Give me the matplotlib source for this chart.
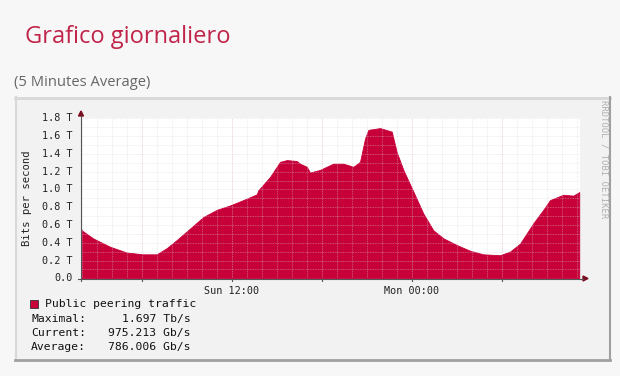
import matplotlib
matplotlib.use("Agg")
import matplotlib.pyplot as plt
from matplotlib.patches import Rectangle
import numpy as np

# hours since Sun 00:00
hours = [1.93, 1.98, 2.73, 3.87, 4.98, 6.07, 6.98, 7.65, 8.31, 9.2, 10.09, 10.98, 11.87,
         12.75, 13.65, 13.75, 14.53, 15.2, 15.65, 16.31, 16.53, 16.98, 17.2, 17.87,
         18.75, 19.42, 20.09, 20.53, 20.87, 21.09, 21.87, 22.65, 22.98, 23.42, 24.09,
         24.75, 25.42, 26.09, 26.98, 27.87, 28.75, 29.87, 30.53, 31.2, 32.09, 32.75,
         33.2, 34.09, 34.75, 35.15]
traffic_T = [0.56, 0.54, 0.45, 0.355, 0.29, 0.27, 0.27, 0.34, 0.43, 0.56, 0.69, 0.77, 0.82,
             0.88, 0.945, 0.99, 1.14, 1.31, 1.33, 1.32, 1.29, 1.255, 1.19, 1.22,
             1.29, 1.29, 1.255, 1.31, 1.575, 1.67, 1.69, 1.65, 1.42, 1.22, 0.975,
             0.73, 0.54, 0.45, 0.375, 0.31, 0.27, 0.26, 0.30, 0.39, 0.62, 0.77,
             0.88, 0.94, 0.93, 0.97]
yticks = [0.0, 0.2, 0.4, 0.6, 0.8, 1.0, 1.2, 1.4, 1.6, 1.8]
ytick_labels = ["0.0", "0.2 T", "0.4 T", "0.6 T", "0.8 T", "1.0 T", "1.2 T", "1.4 T", "1.6 T", "1.8 T"]
xtick_pos = [12, 24]
xtick_labels = ["Sun 12:00", "Mon 00:00"]
legend_name = "Public peering traffic"
stats = [("Maximal:", "1.697 Tb/s"), ("Current:", "975.213 Gb/s"), ("Average:", "786.006 Gb/s")]

W, H = 620, 376
fig = plt.figure(figsize=(W / 100, H / 100), dpi=100)
fig.patch.set_facecolor("#f7f7f7")

def fx(px):
    return px / W

def fy(py):
    return 1 - py / H

# panel box
box = Rectangle((fx(15), fy(360)), fx(595), (263) / H, transform=fig.transFigure,
                facecolor="#f2f2f2", edgecolor="none", zorder=-5)
fig.patches.append(box)
fig.lines.append(plt.Line2D([fx(15), fx(610)], [fy(97.5), fy(97.5)], transform=fig.transFigure, color="#d8d8d8", lw=2, zorder=-4))
fig.lines.append(plt.Line2D([fx(15.5), fx(15.5)], [fy(97), fy(360)], transform=fig.transFigure, color="#d8d8d8", lw=1.5, zorder=-4))
fig.lines.append(plt.Line2D([fx(15), fx(610)], [fy(359.5), fy(359.5)], transform=fig.transFigure, color="#a0a0a0", lw=2, zorder=-4))
fig.lines.append(plt.Line2D([fx(609.5), fx(609.5)], [fy(97), fy(360)], transform=fig.transFigure, color="#a0a0a0", lw=1.5, zorder=-4))

fig.text(fx(25), fy(37), "Grafico giornaliero", fontsize=17, color="#c0244a",
         family="Open Sans", va="center", ha="left")
fig.text(fx(14), fy(82), "(5 Minutes Average)", fontsize=10.6, color="#666666",
         family="Open Sans", va="center", ha="left")

ax = fig.add_axes([fx(81), fy(278.3), 499 / W, 160 / H])
ax.set_facecolor("white")
ax.set_xlim(hours[0], 35.2)
ax.set_ylim(0, 1.8)

red = "#c8003a"
ax.fill_between(hours, traffic_T, 0, color=red, lw=0.6, edgecolor=red, zorder=1)

# grid
for h in np.arange(2, 36, 1):
    major = h % 6 == 0
    ax.axvline(h, color="#d8b0b0" if major else "#d4d4d4", lw=0.6, ls=(0, (1, 1)),
               alpha=0.7 if major else 0.5, zorder=2)
for v in np.arange(0.1, 1.85, 0.1):
    ax.axhline(v, color="#d4d4d4", lw=0.6, ls=(0, (1, 1)), alpha=0.5, zorder=2)

for s in ax.spines.values():
    s.set_visible(False)
ax.set_xticks([])
ax.set_yticks([])

mono = "DejaVu Sans Mono"
for v, lab in zip(yticks, ytick_labels):
    ax.text(-0.016, v, lab, transform=ax.get_yaxis_transform(), ha="right", va="center",
            fontsize=7.3, family=mono, color="#222222")
for p, lab in zip(xtick_pos, xtick_labels):
    ax.text(p, -0.045, lab, transform=ax.get_xaxis_transform(), ha="center", va="top",
            fontsize=7.3, family=mono, color="#222222")

# axes lines with arrows
fig.lines.append(plt.Line2D([fx(81), fx(81)], [fy(281), fy(116)], transform=fig.transFigure, color="#555555", lw=0.8))
fig.lines.append(plt.Line2D([fx(78), fx(583)], [fy(278.5), fy(278.5)], transform=fig.transFigure, color="#555555", lw=0.8))
fig.patches.append(plt.Polygon([[fx(78.5), fy(116)], [fx(83.5), fy(116)], [fx(81), fy(111)]],
                               closed=True, transform=fig.transFigure, color="#7a1020"))
fig.patches.append(plt.Polygon([[fx(583), fy(276)], [fx(583), fy(281)], [fx(588), fy(278.5)]],
                               closed=True, transform=fig.transFigure, color="#7a1020"))
# bottom tick marks
for h in np.arange(6, 36, 6):
    xp = 81 + (h - hours[0]) / (35.2 - hours[0]) * 499
    fig.lines.append(plt.Line2D([fx(xp), fx(xp)], [fy(278.5), fy(281)], transform=fig.transFigure, color="#555555", lw=0.8))

fig.text(fx(27), fy(198), "Bits per second", rotation=90, fontsize=7.6, family=mono,
         ha="center", va="center", color="#222222")
fig.text(fx(604), fy(100), "RRDTOOL / TOBI OETIKER", rotation=270, fontsize=6.4, family=mono,
         ha="center", va="top", color="#b0b0b0")

# legend
fig.patches.append(Rectangle((fx(30), fy(308)), 8 / W, 8 / H, transform=fig.transFigure,
                             facecolor=red, edgecolor="#333333", lw=0.6))
fig.text(fx(45), fy(304), legend_name, fontsize=8.2, family=mono, va="center", ha="left", color="#111111")
for i, (k, v) in enumerate(stats):
    y = 319 + i * 14
    fig.text(fx(31), fy(y), k, fontsize=8.2, family=mono, va="center", ha="left", color="#111111")
    fig.text(fx(191), fy(y), v, fontsize=8.2, family=mono, va="center", ha="right", color="#111111")

fig.savefig("out.png", dpi=100, facecolor=fig.get_facecolor())
